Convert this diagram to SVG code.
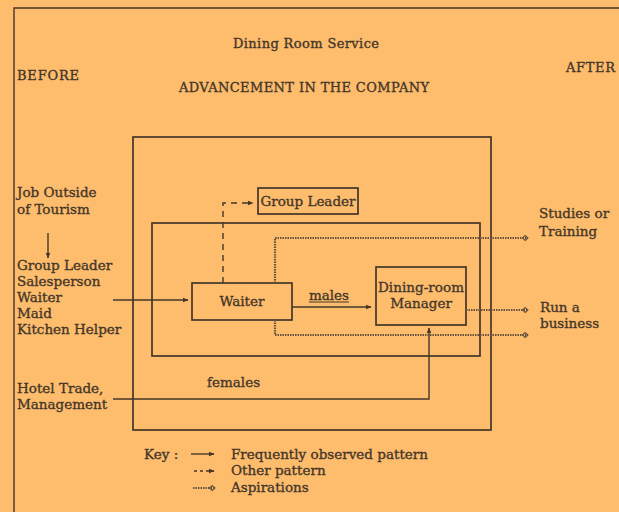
<svg xmlns="http://www.w3.org/2000/svg" width="619" height="512" viewBox="0 0 619 512">
<defs>
<style>
text{font-family:"DejaVu Serif","Liberation Serif",serif;font-size:13.5px;fill:#45362a;stroke:#45362a;stroke-width:0.35}
.ttl{font-size:13px}
.box{fill:none;stroke:#45362a;stroke-width:1.7}
.solid{fill:none;stroke:#45362a;stroke-width:1.4}
.dash{fill:none;stroke:#45362a;stroke-width:1.4;stroke-dasharray:6 5}
.asp{fill:none;stroke:#66513f;stroke-width:2.2;stroke-dasharray:1.5 1}
</style>
<marker id="ah" viewBox="0 0 10 10" refX="9" refY="5" markerWidth="6" markerHeight="6" orient="auto" markerUnits="userSpaceOnUse">
<path d="M0,1 L10,5 L0,9 Z" fill="#45362a"/>
</marker>
<marker id="ad" viewBox="0 0 10 10" refX="9" refY="5" markerWidth="7" markerHeight="7" orient="auto" markerUnits="userSpaceOnUse">
<path d="M1,5 L5,1.5 L9,5 L5,8.5 Z" fill="none" stroke="#66513f" stroke-width="1.5"/>
</marker>
</defs>
<rect x="0" y="0" width="619" height="512" fill="#fdbd6c"/>
<g id="frame">
<path d="M14,512 V8 H619" class="solid" stroke-width="1.8"/>
<rect x="133" y="137" width="358" height="293" class="box"/>
<rect x="152" y="223" width="328" height="133" class="box"/>
</g>
<g id="titles">
<text class="ttl" x="306" y="48" text-anchor="middle" textLength="146">Dining Room Service</text>
<text class="ttl" x="17" y="80" textLength="62">BEFORE</text>
<text class="ttl" x="179" y="92" textLength="250">ADVANCEMENT IN THE COMPANY</text>
<text class="ttl" x="566" y="72" textLength="49">AFTER</text>
</g>
<g id="before">
<text x="17" y="197">Job Outside</text>
<text x="17" y="214">of Tourism</text>
<text x="17" y="270">Group Leader</text>
<text x="17" y="286">Salesperson</text>
<text x="17" y="302">Waiter</text>
<text x="17" y="318">Maid</text>
<text x="17" y="334">Kitchen Helper</text>
<text x="17" y="393">Hotel Trade,</text>
<text x="17" y="409">Management</text>
</g>
<g id="after">
<text x="539" y="218">Studies or</text>
<text x="539" y="236">Training</text>
<text x="540" y="312">Run a</text>
<text x="540" y="328">business</text>
</g>
<g id="group-leader">
<rect x="258" y="188" width="100" height="26" class="box"/>
<text x="308" y="206" text-anchor="middle" textLength="95">Group Leader</text>
</g>
<g id="waiter">
<rect x="192" y="283" width="100" height="37" class="box"/>
<text x="242" y="306" text-anchor="middle">Waiter</text>
</g>
<g id="manager">
<rect x="376" y="267" width="90" height="58" class="box"/>
<text x="421" y="292" text-anchor="middle" textLength="86">Dining-room</text>
<text x="421" y="308" text-anchor="middle">Manager</text>
</g>
<g id="labels">
<text x="309" y="300" textLength="40">males</text>
<line x1="309" y1="302" x2="349" y2="302" stroke="#45362a" stroke-width="1"/>
<text x="207" y="387">females</text>
</g>
<g id="connectors">
<line x1="48" y1="233" x2="48" y2="258" class="solid" marker-end="url(#ah)"/>
<line x1="113" y1="300" x2="188" y2="300" class="solid" marker-end="url(#ah)"/>
<line x1="292" y1="307" x2="371" y2="307" class="solid" marker-end="url(#ah)"/>
<path d="M113,399 H429 V328" class="solid" marker-end="url(#ah)"/>
<path d="M223,283 V203 H253" class="dash" marker-end="url(#ah)"/>
<path d="M275,283 V238 H528" class="asp" marker-end="url(#ad)"/>
<path d="M275,320 V335 H528" class="asp" marker-end="url(#ad)"/>
<line x1="466" y1="310" x2="528" y2="310" class="asp" marker-end="url(#ad)"/>
</g>
<g id="key">
<text x="144" y="459">Key :</text>
<line x1="191" y1="454" x2="214" y2="454" class="solid" marker-end="url(#ah)"/>
<text x="231" y="459" textLength="197">Frequently observed pattern</text>
<line x1="194" y1="471" x2="214" y2="471" class="solid" stroke-dasharray="3 3" marker-end="url(#ah)"/>
<text x="231" y="475">Other pattern</text>
<line x1="193" y1="488" x2="215" y2="488" class="asp" marker-end="url(#ad)"/>
<text x="231" y="492">Aspirations</text>
</g>
</svg>
